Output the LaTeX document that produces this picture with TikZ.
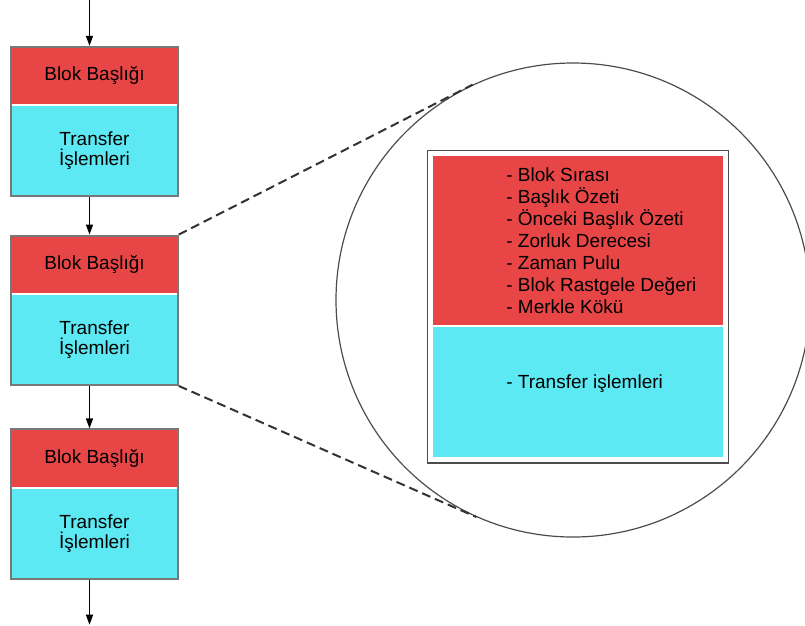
\documentclass[tikz,border=0pt]{standalone}
\usepackage{fontspec}
\setmainfont{Liberation Sans}
\usepackage{xcolor}
\usetikzlibrary{positioning, fit, arrows.meta}
\definecolor{headred}{HTML}{E84646}
\definecolor{bodycyan}{HTML}{5CE9F3}
\definecolor{framegray}{HTML}{787878}

\begin{document}
\begin{tikzpicture}[
            x=1pt, y=-1pt,
            txt/.style={font=\fontsize{19}{20}\selectfont, text=black},
            head/.style={rectangle, fill=headred, minimum width=166pt, minimum height=57pt, inner sep=0pt, txt},
            body/.style={rectangle, fill=bodycyan, minimum width=166pt, minimum height=90pt, inner sep=0pt, align=center, txt},
            blockframe/.style={rectangle, draw=framegray, line width=2pt, inner sep=0pt},
            lens/.style={circle, draw=black!70, line width=1.2pt, minimum size=474pt, inner sep=0pt},
            zoomline/.style={draw=black!80, line width=2pt, dash pattern=on 9pt off 5pt},
            arrow/.style={-{Stealth[inset=0pt, length=10pt, width=7pt]}, line width=1.4pt}
        ]
            \useasboundingbox (0,0) rectangle (805,625);

            \node[head] (head1) at (94.5,75.5) {Blok Başlığı};
            \node[body, below=1.5pt of head1] (body1) {Transfer\\İşlemleri};
            \node[head, below=39.5pt of body1] (head2) {Blok Başlığı};
            \node[body, below=1.5pt of head2] (body2) {Transfer\\İşlemleri};
            \node[head, below=44.5pt of body2] (head3) {Blok Başlığı};
            \node[body, below=1.5pt of head3] (body3) {Transfer\\İşlemleri};
            \node[blockframe, fit=(head1)(body1)] (blk1) {};
            \node[blockframe, fit=(head2)(body2)] (blk2) {};
            \node[blockframe, fit=(head3)(body3)] (blk3) {};

            \node[lens] (lens) at (573,300) {};
            \node[rectangle, fill=headred, minimum width=290pt, minimum height=169pt] (zhead) at (578,240.5) {};
            \node[rectangle, fill=bodycyan, minimum width=290pt, minimum height=130pt, below=2pt of zhead] (zbody) {};
            \node[rectangle, draw=black!70, line width=1.5pt, inner sep=5.5pt, fit=(zhead)(zbody)] (zframe) {};
            \node[txt, font=\fontsize{19}{22}\selectfont, align=left, right=70pt of zhead.west] (fields)
                {- Blok Sırası\\- Başlık Özeti\\- Önceki Başlık Özeti\\- Zorluk Derecesi\\- Zaman Pulu\\- Blok Rastgele Değeri\\- Merkle Kökü};
            \node[txt, anchor=west] (txlist) at ([xshift=70pt, yshift=9pt]zbody.west) {- Transfer işlemleri};

            \coordinate[above=47pt of blk1.north] (chainin);
            \coordinate[below=45pt of blk3.south] (chainout);

            \draw[arrow] ([xshift=-5pt]chainin) -- ([xshift=-5pt]blk1.north);
            \draw[arrow] ([xshift=-5pt]blk1.south) -- ([xshift=-5pt]blk2.north);
            \draw[arrow] ([xshift=-5pt]blk2.south) -- ([xshift=-5pt]blk3.north);
            \draw[arrow] ([xshift=-5pt]blk3.south) -- ([xshift=-5pt]chainout);

            \draw[zoomline] (blk2.north east) -- (lens.115.6);
            \draw[zoomline] (blk2.south east) -- (lens.246.9);
        \end{tikzpicture}
\end{document}
